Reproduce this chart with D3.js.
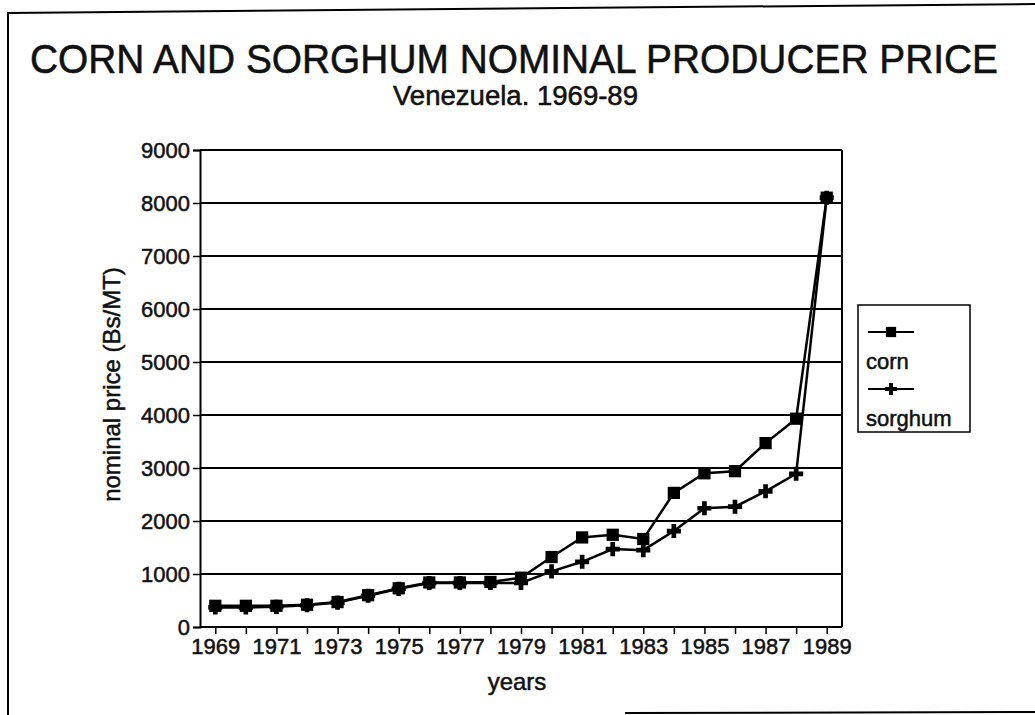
<!DOCTYPE html>
<html>
<head>
<meta charset="utf-8">
<script src="https://d3js.org/d3.v7.min.js"></script>
<style>
  body { margin: 0; background: #fff; }
  text { font-family: "Liberation Sans", Arial, Helvetica, sans-serif; fill: #111; stroke: #111; stroke-width: 0.5px; }
</style>
</head>
<body>
<svg id="chart" width="1035" height="715"></svg>
<script>
// data
var years = ["1969","1970","1971","1972","1973","1974","1975","1976","1977","1978",
             "1979","1980","1981","1982","1983","1984","1985","1986","1987","1988","1989"];
var corn    = [400, 400, 400, 420, 470, 600, 730, 840, 840, 850,
               930, 1320, 1690, 1740, 1660, 2530, 2900, 2940, 3470, 3930, 8100];
var sorghum = [370, 370, 380, 410, 460, 590, 720, 830, 830, 830,
               830, 1050, 1230, 1470, 1450, 1810, 2240, 2270, 2560, 2890, 8100];
var yTicks = [0, 1000, 2000, 3000, 4000, 5000, 6000, 7000, 8000, 9000];
var xTickLabels = ["1969","1971","1973","1975","1977","1979","1981","1983","1985","1987","1989"];

var svg = d3.select("#chart");

var margin = {top: 150, right: 193, bottom: 88, left: 200},
    width = 1035 - margin.left - margin.right,
    height = 715 - margin.top - margin.bottom;

// scanned page border (partial)
svg.append("line").attr("x1", 8).attr("y1", 12).attr("x2", 8).attr("y2", 715)
  .attr("stroke", "#000").attr("stroke-width", 2);
svg.append("line").attr("x1", 8).attr("y1", 13).attr("x2", 1035).attr("y2", 4)
  .attr("stroke", "#000").attr("stroke-width", 2);
svg.append("line").attr("x1", 625).attr("y1", 713).attr("x2", 1035).attr("y2", 712)
  .attr("stroke", "#000").attr("stroke-width", 2);

// titles
svg.append("text")
  .attr("transform", "translate(30,73) scale(1,1.12)")
  .attr("font-size", 37)
  .attr("textLength", 968).attr("lengthAdjust", "spacingAndGlyphs")
  .text("CORN AND SORGHUM NOMINAL PRODUCER PRICE");
svg.append("text")
  .attr("transform", "translate(393,105) scale(1,1.1)")
  .attr("font-size", 25)
  .attr("textLength", 245).attr("lengthAdjust", "spacingAndGlyphs")
  .text("Venezuela. 1969-89");

var g = svg.append("g").attr("transform", "translate(" + margin.left + "," + margin.top + ")");

var x = d3.scalePoint()
  .domain(years)
  .range([0, width])
  .padding(0.5);

var y = d3.scaleLinear()
  .domain([0, 9000])
  .range([height, 0]);

// horizontal grid
g.append("g")
  .selectAll("line")
  .data(yTicks)
  .enter().append("line")
  .attr("x1", 0).attr("x2", width)
  .attr("y1", function(d) { return y(d); })
  .attr("y2", function(d) { return y(d); })
  .attr("stroke", "#000")
  .attr("stroke-width", 2);

// right frame edge
g.append("line")
  .attr("x1", width).attr("x2", width)
  .attr("y1", 0).attr("y2", height)
  .attr("stroke", "#000").attr("stroke-width", 2);

// y axis
var yAxis = g.append("g")
  .call(d3.axisLeft(y).tickValues(yTicks).tickSize(7).tickPadding(3).tickFormat(d3.format("d")));
yAxis.select(".domain").attr("stroke-width", 2);
yAxis.selectAll("line").attr("stroke-width", 1.5);
yAxis.selectAll("text").attr("font-size", 22).style("font-family", "Liberation Sans, Arial, sans-serif");

// x axis
var xAxis = g.append("g")
  .attr("transform", "translate(0," + height + ")")
  .call(d3.axisBottom(x).tickSize(7).tickPadding(4)
    .tickFormat(function(d) { return xTickLabels.indexOf(d) >= 0 ? d : ""; }));
xAxis.select(".domain").attr("stroke-width", 2).attr("d", "M0,0H" + width);
xAxis.selectAll("line").attr("stroke-width", 1.5);
xAxis.selectAll("text").attr("font-size", 22).style("font-family", "Liberation Sans, Arial, sans-serif");

// axis titles
svg.append("text")
  .attr("transform", "translate(120," + (margin.top + height / 2 - 4) + ") rotate(-90)")
  .attr("text-anchor", "middle")
  .attr("font-size", 24)
  .text("nominal price (Bs/MT)");
svg.append("text")
  .attr("x", margin.left + width / 2 - 4).attr("y", 690)
  .attr("text-anchor", "middle")
  .attr("font-size", 24)
  .text("years");

// series
var line = d3.line()
  .x(function(d, i) { return x(years[i]); })
  .y(function(d) { return y(d); });

var series = [
  {name: "corn", values: corn, symbol: d3.symbolSquare, size: 150},
  {name: "sorghum", values: sorghum, symbol: d3.symbolCross, size: 110}
];

series.forEach(function(s) {
  g.append("path")
    .datum(s.values)
    .attr("fill", "none")
    .attr("stroke", "#000")
    .attr("stroke-width", 2.5)
    .attr("d", line);

  g.append("g")
    .selectAll("path")
    .data(s.values)
    .enter().append("path")
    .attr("transform", function(d, i) { return "translate(" + x(years[i]) + "," + y(d) + ")"; })
    .attr("d", d3.symbol().type(s.symbol).size(s.size))
    .attr("fill", "#000");
});

// legend
var legend = svg.append("g").attr("transform", "translate(858,305)");
legend.append("rect")
  .attr("width", 112).attr("height", 127)
  .attr("fill", "#fff").attr("stroke", "#000").attr("stroke-width", 1.5);

series.forEach(function(s, i) {
  var ly = 27 + i * 57;
  legend.append("line")
    .attr("x1", 10).attr("x2", 56).attr("y1", ly).attr("y2", ly)
    .attr("stroke", "#000").attr("stroke-width", 2);
  legend.append("path")
    .attr("transform", "translate(33," + ly + ")")
    .attr("d", d3.symbol().type(s.symbol).size(s.size * 0.7))
    .attr("fill", "#000");
  legend.append("text")
    .attr("x", 8).attr("y", ly + 37)
    .attr("font-size", 22)
    .text(s.name);
});
</script>
</body>
</html>
